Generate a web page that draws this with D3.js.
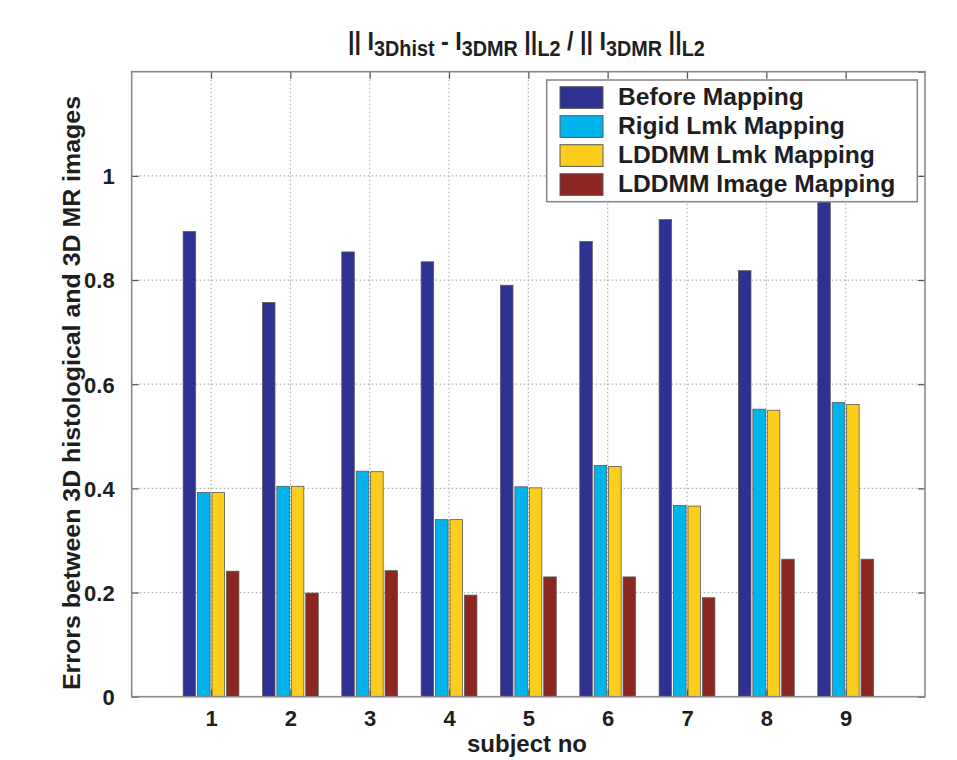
<!DOCTYPE html>
<html><head><meta charset="utf-8">
<script src="https://cdn.jsdelivr.net/npm/d3@7"></script>
<style>
body{margin:0;background:#fff;}
text{font-family:"Liberation Sans",Arial,Helvetica,sans-serif;font-weight:bold;fill:#1e1e1e;}
</style>
</head><body><svg id="c" width="957" height="760"></svg>
<script>
const subjects = [1,2,3,4,5,6,7,8,9];
const seriesNames = ["Before Mapping","Rigid Lmk Mapping","LDDMM Lmk Mapping","LDDMM Image Mapping"];
const beforeMapping = [0.893,0.757,0.854,0.835,0.790,0.874,0.916,0.818,0.975];
const rigidLmk      = [0.392,0.404,0.433,0.340,0.403,0.444,0.367,0.552,0.565];
const lddmmLmk      = [0.392,0.404,0.432,0.340,0.401,0.442,0.366,0.550,0.561];
const lddmmImage    = [0.241,0.199,0.242,0.195,0.230,0.230,0.190,0.264,0.264];
const yTicks = [0,0.2,0.4,0.6,0.8,1];
const yTickLabels = ["0","0.2","0.4","0.6","0.8","1"];
const xTickLabels = ["1","2","3","4","5","6","7","8","9"];
const colors = ["#2e3192","#00b4eb","#fbcd1c","#8c2621"];
const xLabel = "subject no";
const yLabel = "Errors between 3D histological and 3D MR images";

const series = [beforeMapping, rigidLmk, lddmmLmk, lddmmImage];

const svg = d3.select("#c");
const L = 131.7, R = 925, T = 71.7, B = 696.7;
const x = d3.scaleLinear().domain([0,10]).range([L,R]);
const y = d3.scaleLinear().domain([0,1.2]).range([B,T]);

svg.append("rect").attr("width",957).attr("height",760).attr("fill","#fff");

// grid
const grid = svg.append("g").attr("stroke","#b0b0b0").attr("stroke-width",1.2).attr("stroke-dasharray","1.5,2.5");
grid.selectAll(".vg").data(subjects).join("line")
  .attr("x1",d=>x(d)).attr("x2",d=>x(d)).attr("y1",T).attr("y2",B);
grid.selectAll(".hg").data(yTicks.filter(d=>d>0)).join("line")
  .attr("x1",L).attr("x2",R).attr("y1",d=>y(d)).attr("y2",d=>y(d));

// bars
const step = 0.1818, bw = 0.158;
series.forEach((vals,si)=>{
  svg.append("g").selectAll("rect").data(vals).join("rect")
    .attr("x",(d,i)=>x(subjects[i] + (si-1.5)*step - bw/2))
    .attr("width",x(bw)-x(0))
    .attr("y",d=>y(d))
    .attr("height",d=>y(0)-y(d))
    .attr("fill",colors[si])
    .attr("stroke","#5a5a5a").attr("stroke-width",0.8);
});

// axes (ticks inward)
const tk = 7;
const axB = svg.append("g").attr("transform",`translate(0,${B})`)
  .call(d3.axisBottom(x).tickValues(subjects).tickFormat((d,i)=>xTickLabels[i]).tickSize(-tk).tickPadding(14));
const axT = svg.append("g").attr("transform",`translate(0,${T})`)
  .call(d3.axisTop(x).tickValues(subjects).tickFormat("").tickSize(-tk));
const axL = svg.append("g").attr("transform",`translate(${L},0)`)
  .call(d3.axisLeft(y).tickValues(yTicks).tickFormat((d,i)=>yTickLabels[i]).tickSize(-tk).tickPadding(17));
const axR = svg.append("g").attr("transform",`translate(${R},0)`)
  .call(d3.axisRight(y).tickValues(yTicks.concat([1.2])).tickFormat("").tickSize(-tk));
[axB,axT,axL,axR].forEach(a=>{
  a.select(".domain").remove();
  a.selectAll(".tick line").attr("stroke","#555").attr("stroke-width",1.2);
  a.selectAll("text").attr("font-size",22).attr("fill","#1e1e1e")
    .style("font-family",'"Liberation Sans",Arial,sans-serif').style("font-weight","bold");
});
axL.selectAll("text").attr("dy","0.36em");
// frame
svg.append("rect").attr("x",L).attr("y",T).attr("width",R-L).attr("height",B-T)
  .attr("fill","none").attr("stroke","#8a8a8a").attr("stroke-width",1.6);

// labels
svg.append("text").attr("x",527).attr("y",752).attr("text-anchor","middle")
  .attr("font-size",24).text(xLabel);
svg.append("text").attr("transform","translate(80,393) rotate(-90)").attr("text-anchor","middle")
  .attr("font-size",23).attr("textLength",594).attr("lengthAdjust","spacingAndGlyphs").text(yLabel);

// title
const title = svg.append("text").attr("y",50).attr("font-size",26).style("font-weight","bold");
const parts = [["|| I",0],["3Dhist",1],[" - I",0],["3DMR",1],[" ||",0],["L2",1],[" / || I",0],["3DMR",1],[" ||",0],["L2",1]];
let prevSub = 0;
parts.forEach(([t,s])=>{
  const sp = title.append("tspan").text(t).attr("font-size", s?22:26);
  const dy = (s?6:0) - (prevSub?6:0);
  if (dy!==0) sp.attr("dy",dy);
  prevSub = s;
});
const tb = title.node().getBBox();
const sx = (705-348)/tb.width;
title.attr("transform",`translate(${348 - tb.x*sx},0) scale(${sx},1)`);

// legend
const lg = svg.append("g");
lg.append("rect").attr("x",546.7).attr("y",80).attr("width",917.3-546.7).attr("height",201.7-80)
  .attr("fill","#fff").attr("stroke","#8a8a8a").attr("stroke-width",1.6);
seriesNames.forEach((n,i)=>{
  lg.append("rect").attr("x",560).attr("y",86.7+i*29).attr("width",43).attr("height",21.7)
    .attr("fill",colors[i]).attr("stroke","#5a5a5a").attr("stroke-width",1);
  lg.append("text").attr("x",618).attr("y",105+i*29).attr("font-size",24.6).text(n);
});
</script>
</body></html>
